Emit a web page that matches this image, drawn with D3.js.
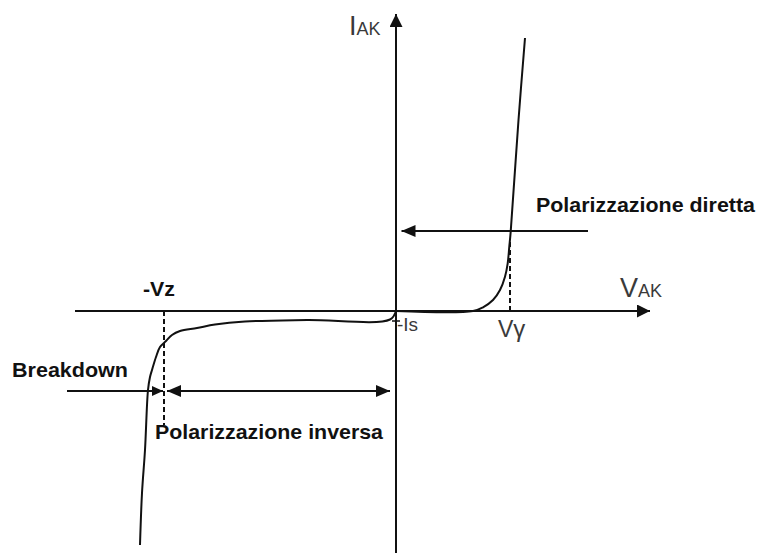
<!DOCTYPE html>
<html><head><meta charset="utf-8">
<script src="https://cdn.jsdelivr.net/npm/d3@7"></script>
<style>body{margin:0;background:#fff}svg{display:block}</style>
</head><body>
<svg id="chart" width="758" height="556"></svg>
<script>
// Diode I-V characteristic in schematic units (voltage along x, current along y)
const forwardV = [0, 0.77, 0.87, 0.97, 1.04, 1.09, 1.117, 1.133, 1.147, 1.225, 1.29];
const forwardI = [0, 0, 0.037, 0.11, 0.21, 0.343, 0.477, 0.643, 0.793, 1.91, 2.73];
const reverseV = [0, -0.06, -0.89, -1.51, -1.81, -1.99, -2.16, -2.24, -2.30, -2.36, -2.40, -2.44, -2.46, -2.48, -2.51, -2.54, -2.56];
const reverseI = [0, -0.085, -0.09, -0.105, -0.135, -0.17, -0.20, -0.24, -0.30, -0.36, -0.46, -0.59, -0.66, -0.79, -1.39, -1.82, -2.34];
const vGamma = 1.14;
const vZener = -2.32;
const axisV = [-3.21, 2.54];
const axisI = [-2.42, 2.97];
const directLevel = 0.80, reverseLevel = -0.80;

const svg = d3.select("#chart");
const x = d3.scaleLinear().domain(axisV).range([75, 650]);
const y = d3.scaleLinear().domain(axisI).range([553, 14]);
const ink = "#111";

// arrowhead markers
const defs = svg.append("defs");
function marker(id, len, wid) {
  defs.append("marker").attr("id", id)
    .attr("markerUnits", "userSpaceOnUse")
    .attr("markerWidth", len).attr("markerHeight", wid)
    .attr("refX", len).attr("refY", wid / 2)
    .attr("orient", "auto-start-reverse")
    .append("path").attr("d", `M0,0L${len},${wid / 2}L0,${wid}Z`).attr("fill", ink);
}
marker("axisHead", 13, 13);
marker("head", 14, 12);
marker("smallHead", 11, 10);

// axes
svg.append("line").attr("x1", x(axisV[0])).attr("x2", x(axisV[1]))
  .attr("y1", y(0)).attr("y2", y(0))
  .attr("stroke", ink).attr("stroke-width", 2).attr("marker-end", "url(#axisHead)");
svg.append("line").attr("x1", x(0)).attr("x2", x(0))
  .attr("y1", y(axisI[0])).attr("y2", y(axisI[1]))
  .attr("stroke", ink).attr("stroke-width", 2).attr("marker-end", "url(#axisHead)");

// dashed reference lines at V-gamma and -Vz
const dashed = [[vGamma, 0, 0.70], [vZener, 0, -1.14]];
svg.selectAll("line.ref").data(dashed).join("line").attr("class", "ref")
  .attr("x1", d => x(d[0])).attr("x2", d => x(d[0]))
  .attr("y1", d => y(d[1])).attr("y2", d => y(d[2]))
  .attr("stroke", ink).attr("stroke-width", 2).attr("stroke-dasharray", "5,3");

// characteristic curves
const line = d3.line().x(d => x(d[0])).y(d => y(d[1])).curve(d3.curveCatmullRom.alpha(0.5));
const fwd = forwardV.map((v, i) => [v, forwardI[i]]);
const rev = reverseV.map((v, i) => [v, reverseI[i]]);
[fwd, rev].forEach(pts => svg.append("path").attr("d", line(pts))
  .attr("fill", "none").attr("stroke", ink).attr("stroke-width", 2));

// Is tick
svg.append("line").attr("x1", x(-0.04)).attr("x2", x(0.04))
  .attr("y1", y(-0.10)).attr("y2", y(-0.10)).attr("stroke", ink).attr("stroke-width", 1.5);

// annotation arrows
svg.append("line").attr("x1", x(1.92)).attr("x2", x(0.055))
  .attr("y1", y(directLevel)).attr("y2", y(directLevel))
  .attr("stroke", ink).attr("stroke-width", 2).attr("marker-end", "url(#head)");
svg.append("line").attr("x1", x(-3.29)).attr("x2", x(-2.33))
  .attr("y1", y(reverseLevel)).attr("y2", y(reverseLevel))
  .attr("stroke", ink).attr("stroke-width", 2).attr("marker-end", "url(#smallHead)");
svg.append("line").attr("x1", x(-2.29)).attr("x2", x(-0.06))
  .attr("y1", y(reverseLevel)).attr("y2", y(reverseLevel))
  .attr("stroke", ink).attr("stroke-width", 2)
  .attr("marker-start", "url(#head)").attr("marker-end", "url(#head)");

// bold annotation labels
const bold = [
  {t: "Breakdown", x: 12, y: 377, s: 20, w: 116},
  {t: "Polarizzazione inversa", x: 155, y: 439, s: 21, w: 228},
  {t: "Polarizzazione diretta", x: 536, y: 212, s: 21, w: 219},
  {t: "-Vz", x: 143, y: 296, s: 20, w: 32}
];
svg.selectAll("text.bold").data(bold).join("text").attr("class", "bold")
  .attr("x", d => d.x).attr("y", d => d.y)
  .attr("font-family", "Liberation Sans, Arial, sans-serif")
  .attr("font-weight", "bold").attr("font-size", d => d.s)
  .attr("textLength", d => d.w).attr("lengthAdjust", "spacingAndGlyphs")
  .attr("fill", ink).text(d => d.t);

// axis and point labels
const labelFont = "Liberation Sans, Arial, sans-serif";
function twoPart(big, small, px, py, bs, ss) {
  const t = svg.append("text").attr("x", px).attr("y", py)
    .attr("font-family", labelFont).attr("fill", "#3a3a3a");
  t.append("tspan").attr("font-size", bs).text(big);
  t.append("tspan").attr("font-size", ss).text(small);
}
twoPart("I", "AK", 349, 35, 27, 18);
twoPart("V", "AK", 620, 297, 27, 18);
twoPart("V", "γ", 498, 337, 23, 24);
svg.append("text").attr("x", 397).attr("y", 331).attr("font-family", labelFont)
  .attr("font-size", 19).attr("fill", "#3a3a3a").text("-Is");
</script>
</body></html>
